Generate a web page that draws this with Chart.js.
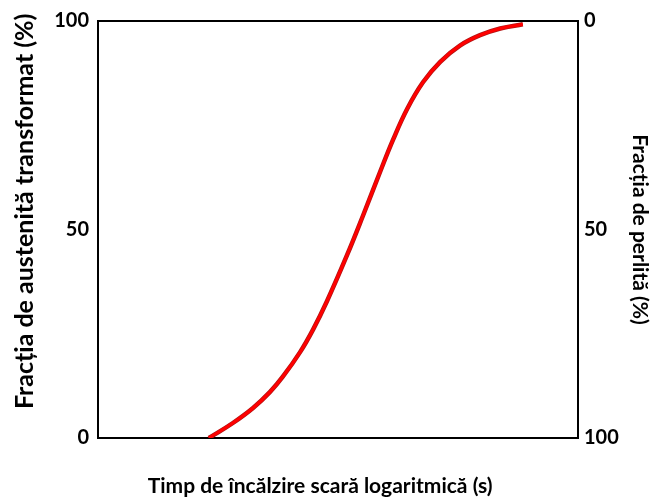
<!DOCTYPE html>
<html>
<head>
<meta charset="utf-8">
<script src="https://cdn.jsdelivr.net/npm/chart.js@4/dist/chart.umd.min.js"></script>
<style>
  body { margin: 0; background: #fff; }
  #wrap { width: 650px; height: 497px; position: relative; }
</style>
</head>
<body>
<div id="wrap"><canvas id="chartCurve"></canvas></div>
<script>
// time on a log axis, shown as 0..100 of the plot width
const timeX = [23.1, 28.1, 32.3, 35.8, 38.5, 42.1, 44.8, 47.7, 51.9, 55.2, 58.8, 61.5, 64.4, 67.7, 71.3, 75.4, 79.6, 83.8, 88.5];
// austenite transformed (%)
const austenite = [0, 3.6, 7.2, 11.0, 14.7, 20.6, 26.0, 32.8, 43.9, 53.3, 63.9, 71.6, 78.9, 85.3, 90.2, 94.1, 96.6, 98.2, 99.2];
const leftTicks = [0, 50, 100];
const rightTicks = [0, 50, 100];

// the spaces nudge the titles off the axis centre, as in the original
const xTitle = 'Timp de încălzire scară logaritmică (s)' + '       ';
const leftTitle = '      ' + 'Fracția de austenită transformat (%)';
const rightTitle = 'Fracția de perlită (%)';

const fontFamily = 'Lato, "Open Sans", sans-serif';

function points() {
    return timeX.map(function (x, i) { return { x: x, y: austenite[i] }; });
}

const frame = {
    id: 'frame',
    beforeDatasetsDraw(chart) {
        const a = chart.chartArea;
        const ctx = chart.ctx;
        ctx.save();
        ctx.strokeStyle = '#000';
        ctx.lineWidth = 2;
        ctx.strokeRect(a.left, a.top, a.right - a.left, a.bottom - a.top);
        ctx.restore();
    }
};

new Chart(document.getElementById('chartCurve'), {
    type: 'line',
    data: {
        datasets: [
            {
                data: points(),
                borderColor: '#ff0000',
                borderWidth: 3,
                pointRadius: 0,
                tension: 0.4,
                order: 0
            },
            {
                data: points(),
                borderColor: '#b01414',
                borderWidth: 4.5,
                pointRadius: 0,
                tension: 0.4,
                order: 1
            }
        ]
    },
    options: {
        responsive: true,
        maintainAspectRatio: false,
        animation: false,
        layout: { padding: { top: 18, left: 0, right: 0, bottom: 0 } },
        plugins: {
            legend: { display: false },
            tooltip: { enabled: false }
        },
        scales: {
            x: {
                type: 'linear',
                min: 0,
                max: 100,
                ticks: { display: false },
                grid: { display: false, drawTicks: false },
                border: { display: false },
                title: {
                    display: true,
                    text: xTitle,
                    color: '#000',
                    font: { family: fontFamily, size: 21, weight: 'bold' },
                    padding: { top: 0, bottom: -2 }
                },
                afterFit(s) { s.height = 59; }
            },
            y: {
                position: 'left',
                min: 0,
                max: 100,
                afterBuildTicks(s) { s.ticks = leftTicks.map(v => ({ value: v })); },
                ticks: {
                    padding: 9,
                    color: '#000',
                    font: { family: fontFamily, size: 20, weight: 'bold' }
                },
                grid: { display: false, drawTicks: false },
                border: { display: false },
                title: {
                    display: true,
                    text: leftTitle,
                    color: '#000',
                    font: { family: fontFamily, size: 25, weight: 'bold' },
                    padding: { top: 10, bottom: 0 }
                },
                afterFit(s) { s.width = 98; }
            },
            y2: {
                position: 'right',
                reverse: true,
                min: 0,
                max: 100,
                afterBuildTicks(s) { s.ticks = rightTicks.map(v => ({ value: v })); },
                ticks: {
                    padding: 6,
                    color: '#000',
                    font: { family: fontFamily, size: 20, weight: 'bold' }
                },
                grid: { display: false, drawTicks: false },
                border: { display: false },
                title: {
                    display: true,
                    text: rightTitle,
                    color: '#000',
                    font: { family: fontFamily, size: 21, weight: 'bold' },
                    padding: { top: -2, bottom: 0 }
                },
                afterFit(s) { s.width = 72; }
            }
        }
    },
    plugins: [frame]
});
</script>
</body>
</html>
